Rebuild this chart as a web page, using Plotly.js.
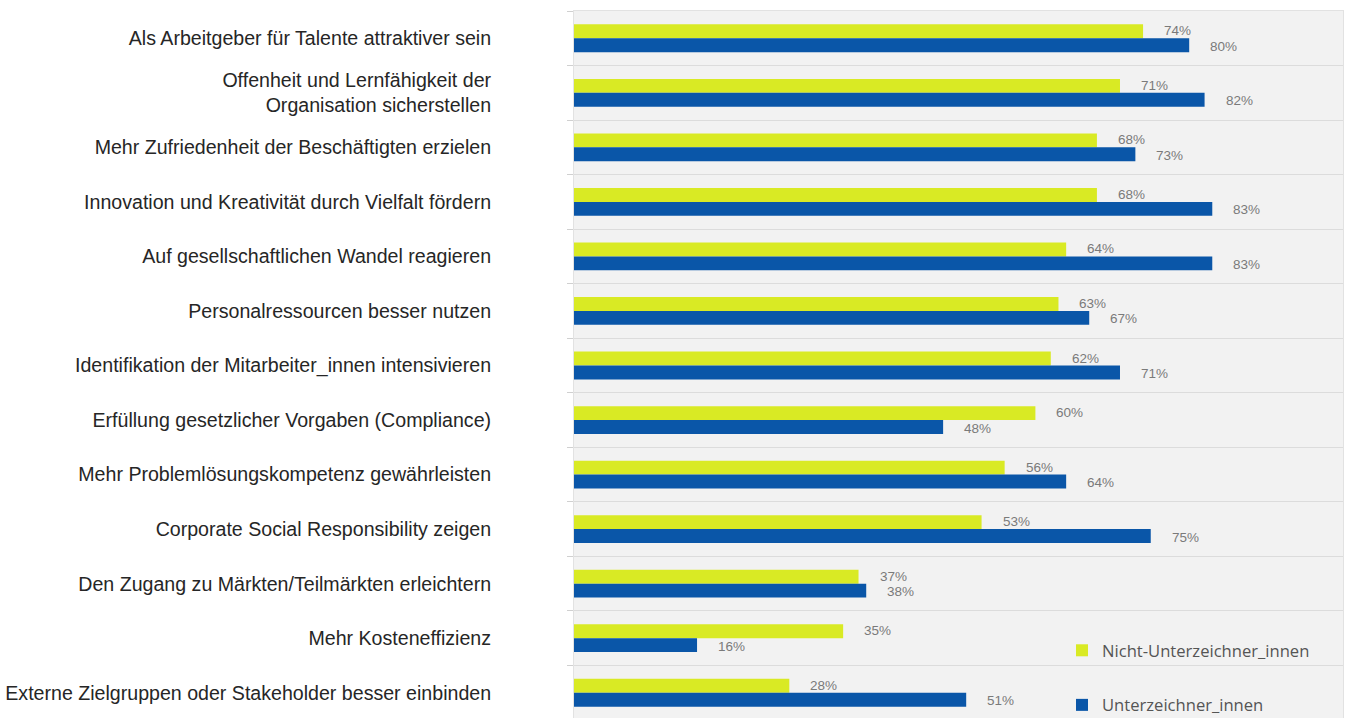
<!DOCTYPE html>
<html>
<head>
<meta charset="utf-8">
<script src="https://cdn.plot.ly/plotly-3.0.1.min.js"></script>
<style>
html, body { margin: 0; padding: 0; overflow: hidden; background: #fff; }
#chart { width: 1347px; height: 723px; }
</style>
</head>
<body>
<div id="chart"></div>
<script>
var categories = [
  "Als Arbeitgeber für Talente attraktiver sein",
  "Offenheit und Lernfähigkeit der<br>Organisation sicherstellen",
  "Mehr Zufriedenheit der Beschäftigten erzielen",
  "Innovation und Kreativität durch Vielfalt fördern",
  "Auf gesellschaftlichen Wandel reagieren",
  "Personalressourcen besser nutzen",
  "Identifikation der Mitarbeiter_innen intensivieren",
  "Erfüllung gesetzlicher Vorgaben (Compliance)",
  "Mehr Problemlösungskompetenz gewährleisten",
  "Corporate Social Responsibility zeigen",
  "Den Zugang zu Märkten/Teilmärkten erleichtern",
  "Mehr Kosteneffizienz",
  "Externe Zielgruppen oder Stakeholder besser einbinden"
];
var nichtUnterzeichner = [74, 71, 68, 68, 64, 63, 62, 60, 56, 53, 37, 35, 28];
var unterzeichner      = [80, 82, 73, 83, 83, 67, 71, 48, 64, 75, 38, 16, 51];
var seriesNames = ["Nicht-Unterzeichner_innen", "Unterzeichner_innen"];
var seriesColors = ["#d9ea24", "#0a56a8"];

var allSeries = [nichtUnterzeichner, unterzeichner];

var traces = allSeries.map(function (vals, s) {
  return {
    type: "bar",
    orientation: "h",
    name: seriesNames[s],
    legendgroup: "g" + s,
    x: vals,
    y: categories,
    marker: { color: seriesColors[s], line: { width: 0 } },
    hoverinfo: "x+y"
  };
});

var annotations = [];
allSeries.forEach(function (vals, s) {
  vals.forEach(function (v, i) {
    annotations.push({
      x: v, y: categories[i], xref: "x", yref: "y",
      text: v + "%", showarrow: false,
      xanchor: "left", yanchor: "middle",
      xshift: 19, yshift: s === 0 ? 7.5 : -8,
      font: { family: "Liberation Sans, Arial, sans-serif", size: 13.5, color: "#7a7a7a" }
    });
  });
});

var layout = {
  width: 1347, height: 723,
  margin: { l: 574, r: 4, t: 11, b: 0, pad: 0 },
  paper_bgcolor: "#ffffff",
  plot_bgcolor: "#f2f2f2",
  barmode: "group",
  bargap: 0.49,
  bargroupgap: 0,
  showlegend: true,
  legend: {
    x: 0.6346, xanchor: "left", xref: "paper",
    y: 0.1222, yanchor: "top", yref: "paper",
    bgcolor: "rgba(0,0,0,0)",
    traceorder: "grouped",
    tracegroupgap: 30,
    font: { family: "Open Sans, sans-serif", size: 16.6, color: "#555555" }
  },
  xaxis: {
    range: [0, 100],
    showgrid: false, zeroline: false,
    showticklabels: false, ticks: "",
    showline: true, mirror: true, linecolor: "#e2e2e2", linewidth: 1,
    fixedrange: true
  },
  yaxis: {
    type: "category",
    autorange: "reversed",
    tickson: "boundaries",
    ticks: "outside", ticklen: 6, tickcolor: "#d0d0d0", tickwidth: 1,
    showgrid: true, gridcolor: "#dcdcdc", gridwidth: 1,
    showline: true, mirror: true, linecolor: "#e2e2e2", linewidth: 1,
    ticklabelstandoff: 78,
    tickfont: { family: "Liberation Sans, Arial, sans-serif", size: 19.6, color: "#262626" },
    fixedrange: true
  },
  annotations: annotations
};

Plotly.newPlot("chart", traces, layout, { displayModeBar: false, staticPlot: false });
</script>
</body>
</html>
